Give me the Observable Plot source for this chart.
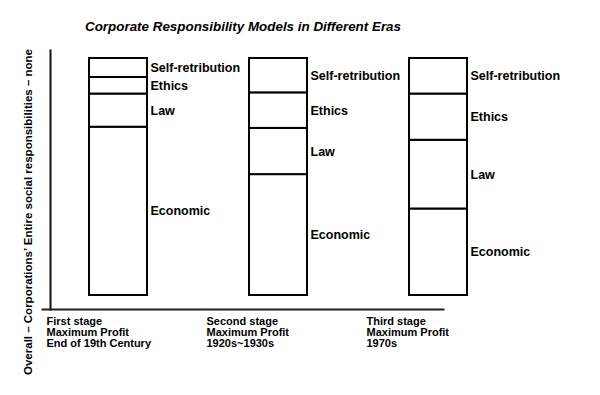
<!DOCTYPE html>
<html>
<head>
<meta charset="utf-8">
<script src="https://cdn.jsdelivr.net/npm/d3@7"></script>
<script src="https://cdn.jsdelivr.net/npm/@observablehq/plot@0.6"></script>
<style>
  html, body { margin: 0; padding: 0; background: #fff; }
  #title { height: 40px; box-sizing: border-box; padding-left: 85px; padding-top: 18px;
    font: italic bold 13.4px "Liberation Sans", Arial, sans-serif; color: #000; line-height: 18px; }
  #chart svg { display: block; overflow: visible; }
</style>
</head>
<body>
<div id="title">Corporate Responsibility Models in Different Eras</div>
<div id="chart"></div>
<script>
const titleText = "Corporate Responsibility Models in Different Eras";
const stages = ["First stage", "Second stage", "Third stage"];
const stageLabels = [
  "First stage\nMaximum Profit\nEnd of 19th Century",
  "Second stage\nMaximum Profit\n1920s~1930s",
  "Third stage\nMaximum Profit\n1970s"
];
const layers = ["Economic", "Law", "Ethics", "Self-retribution"];
const economic = [71, 51, 36.5];
const law = [14, 19.5, 29];
const ethics = [7, 15, 19.5];
const selfRetribution = [8, 14.5, 15];
const yLabel = "Overall – Corporations’ Entire social responsibilities – none";

const series = [economic, law, ethics, selfRetribution];
const data = [];
stages.forEach((s, i) => {
  layers.forEach((l, j) => data.push({stage: s, layer: l, value: series[j][i]}));
});
const labelData = stages.map((s, i) => ({stage: s, text: stageLabels[i]}));

const font = "'Liberation Sans', Arial, sans-serif";
const chart = Plot.plot({
  width: 600,
  height: 355,
  marginTop: 10,
  marginBottom: 86,
  marginLeft: 50,
  marginRight: 157,
  style: {fontFamily: font, background: "#fff", color: "#000", overflow: "visible"},
  x: {type: "band", domain: stages, range: [88.5, 467.5], paddingInner: 0.635, paddingOuter: 0, axis: null},
  y: {domain: [0, 100], insetTop: 8, insetBottom: 14, axis: null},
  marks: [
    Plot.frame({anchor: "left", stroke: "#111", strokeWidth: 2}),
    Plot.frame({anchor: "bottom", stroke: "#222", strokeWidth: 2, insetLeft: -8}),
    Plot.barY(data, {x: "stage", y: "value", fill: "white", stroke: "#000", strokeWidth: 2}),
    Plot.text(data, Plot.stackY({x: "stage", y: "value", text: "layer", textAnchor: "start",
      dx: 32, fontSize: 12.5, fontWeight: "bold", fill: "#000"})),
    Plot.text(labelData, {x: "stage", text: "text", frameAnchor: "bottom", lineAnchor: "top",
      textAnchor: "start", dx: -72, dy: 8, lineHeight: 1.0, fontSize: 11, fontWeight: "bold", fill: "#000"}),
    Plot.text([yLabel], {text: d => d, frameAnchor: "left", textAnchor: "middle", rotate: -90, dx: -22, dy: 32,
      fontSize: 11.5, fontWeight: "bold", fill: "#000"})
  ]
});
document.getElementById("chart").appendChild(chart);
</script>
</body>
</html>
